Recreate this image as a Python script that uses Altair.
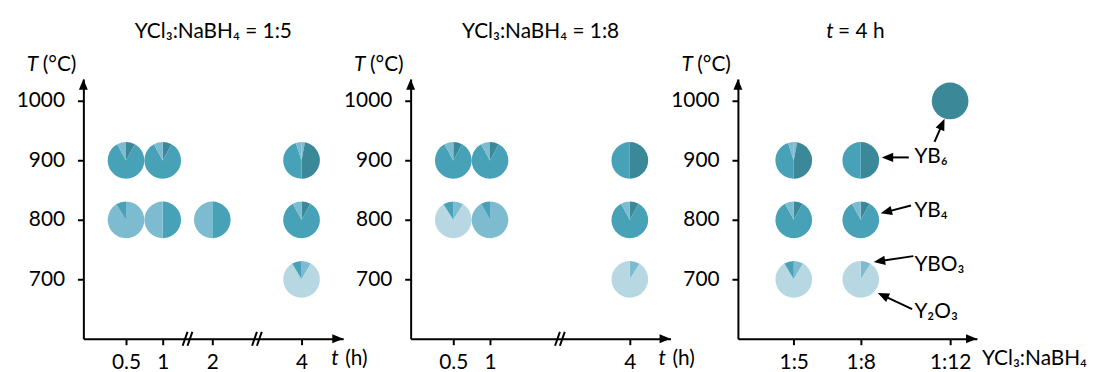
import math
import altair as alt
import pandas as pd

FONT = "Lato"
FS = 21

# ---------------- data ----------------
PHASES = ["YB6", "YB4", "YBO3", "Y2O3"]
PHASE_COLORS = ["#3b8899", "#47a2b8", "#7dbcd0", "#b7d7e2"]

# phase composition of each pie, in % and clockwise from 12 o'clock
COMPOSITIONS = {
    "A": [("YB6", 8), ("YB4", 84), ("YBO3", 8)],
    "B": [("YBO3", 3), ("YB6", 47), ("YB4", 45), ("YBO3", 5)],
    "C": [("YBO3", 91), ("YB4", 9)],
    "C2": [("YBO3", 92), ("YB4", 8)],
    "D": [("YB4", 50), ("YBO3", 50)],
    "E": [("YBO3", 8.5), ("Y2O3", 83), ("YB4", 8.5)],
    "F": [("YB6", 50), ("YB4", 50)],
    "G": [("YBO3", 9), ("Y2O3", 82), ("YB4", 9)],
    "H": [("YBO3", 9), ("Y2O3", 91)],
    "P": [("YB6", 100)],
}

# panel 1: YCl3:NaBH4 = 1:5
P1_TIME = [0.5, 1, 4, 0.5, 1, 2, 4, 4]
P1_TEMP = [900, 900, 900, 800, 800, 800, 800, 700]
P1_COMP = ["A", "A", "B", "C", "D", "D", "A", "E"]
P1_TICKS = [0.5, 1, 2, 4]
P1_BREAKS = [1.5, 3]

# panel 2: YCl3:NaBH4 = 1:8
P2_TIME = [0.5, 1, 4, 0.5, 1, 4, 4]
P2_TEMP = [900, 900, 900, 800, 800, 800, 700]
P2_COMP = ["A", "A", "F", "G", "C2", "A", "H"]
P2_TICKS = [0.5, 1, 4]
P2_BREAKS = [2.5]

# panel 3: t = 4 h, x = NaBH4 per YCl3
P3_RATIO = [5, 5, 5, 8, 8, 8, 12]
P3_TEMP = [900, 800, 700, 900, 800, 700, 1000]
P3_COMP = ["B", "A", "E", "F", "A", "H", "P"]
P3_TICKS = [5, 8, 12]

Y_TICKS = [700, 800, 900, 1000]

# annotations of panel 3 (data units: ratio, °C)
ANN_TEXT = ["YB\u2086", "YB\u2084", "YBO\u2083", "Y\u2082O\u2083"]
ANN_TEXT_R = [10.4, 10.4, 10.4, 10.4]
ANN_TEXT_T = [906, 814, 724, 645]
ARROW_TAIL_R = [10.15, 11.3, 10.25, 10.35, 10.3]
ARROW_TAIL_T = [905, 931, 824, 739, 650]
ARROW_TIP_R = [8.94, 11.75, 8.89, 8.58, 8.76]
ARROW_TIP_T = [905, 970, 811, 729, 677]

# ---------------- geometry / scales ----------------
H = 262
W12 = 262
W3 = 241
Y_DOMAIN = [600, 1037]
P1_DOMAIN = [0, 0.5, 1, 2, 4, 4.5]
P1_RANGE = [0, 43, 80, 130, 220, W12]
P2_DOMAIN = [0, 0.5, 1, 4, 4.5]
P2_RANGE = [0, 43, 80, 221, W12]
P3_DOMAIN = [2.5, 13.2]
P3_RANGE = [0, W3]

ARROW = "M0,0L-0.45,1.1L0.45,1.1Z"
BREAK = "M-0.7,1L0,-1M0,1L0.7,-1"


def pie_frame(xs, temps, comps):
    rows = []
    for i, (x, t, c) in enumerate(zip(xs, temps, comps)):
        for k, (ph, pct) in enumerate(COMPOSITIONS[c]):
            rows.append({"pie": i, "x": x, "T": t, "phase": ph, "pct": pct, "order": k})
    return pd.DataFrame(rows)


def axis(values, label_expr, pad):
    return alt.Axis(
        values=values, labelExpr=label_expr, title="", grid=False,
        domainColor="black", domainWidth=2, tickColor="black", tickWidth=2,
        tickSize=6, labelFont=FONT, labelFontSize=FS, labelColor="black",
        labelPadding=pad, labelOverlap=False,
    )


def panel(df, xdom, xrange, width, xticks, xlabel_expr, breaks, xtitle, title, annotations=None):
    xs = alt.Scale(domain=xdom, range=xrange, nice=False, zero=False)
    ys = alt.Scale(domain=Y_DOMAIN, nice=False, zero=False)
    xax = axis(xticks, xlabel_expr, 7)
    yax = axis(Y_TICKS, "datum.value", 13)
    xmin, xmax = xdom[0], xdom[-1]
    ymin, ymax = Y_DOMAIN

    def X(f):
        return alt.X(f"{f}:Q", scale=xs, axis=xax)

    def Y(f):
        return alt.Y(f"{f}:Q", scale=ys, axis=yax)

    pies = alt.Chart(df).transform_joinaggregate(
        total="sum(pct)", groupby=["pie"]
    ).transform_window(
        cum="sum(pct)", groupby=["pie"], sort=[alt.SortField("order")], frame=[None, 0]
    ).transform_calculate(
        a0="(datum.cum - datum.pct) / datum.total", a1="datum.cum / datum.total"
    ).mark_arc(radius=18.5).encode(
        x=X("x"),
        y=Y("T"),
        theta=alt.Theta("a0:Q", scale=alt.Scale(domain=[0, 1], range=[0, 2 * math.pi]), stack=False),
        theta2="a1:Q",
        color=alt.Color("phase:N", scale=alt.Scale(domain=PHASES, range=PHASE_COLORS), legend=None),
        order=alt.Order("order:Q"),
    )

    head_x = alt.Chart(pd.DataFrame({"x": [xmax], "y": [ymin]})).mark_point(
        shape=ARROW, size=400, filled=True, color="black", opacity=1, strokeWidth=0, angle=90
    ).encode(x=X("x"), y=Y("y"))
    head_y = alt.Chart(pd.DataFrame({"x": [xmin], "y": [ymax]})).mark_point(
        shape=ARROW, size=400, filled=True, color="black", opacity=1, strokeWidth=0, angle=0
    ).encode(x=X("x"), y=Y("y"))

    layers = [pies, head_x, head_y]

    if breaks:
        layers.append(
            alt.Chart(pd.DataFrame({"x": breaks, "y": [ymin] * len(breaks)})).mark_point(
                shape=BREAK, size=196, filled=False, color="black", opacity=1, strokeWidth=2
            ).encode(x=X("x"), y=Y("y"))
        )

    txt = dict(font=FONT, fontSize=FS, color="black", baseline="alphabetic", align="left")
    # y axis title: T (°C)
    layers.append(alt.Chart(pd.DataFrame({"x": [xmin], "y": [ymax], "s": ["T"]})).mark_text(
        dx=-57, dy=-8, fontStyle="italic", **txt).encode(text="s:N", x=X("x"), y=Y("y")))
    layers.append(alt.Chart(pd.DataFrame({"x": [xmin], "y": [ymax], "s": ["(°C)"]})).mark_text(
        dx=-41, dy=-8, **txt).encode(text="s:N", x=X("x"), y=Y("y")))
    # x axis title
    for s, dx, style in xtitle:
        layers.append(alt.Chart(pd.DataFrame({"x": [xmax], "y": [ymin], "s": [s]})).mark_text(
            dx=dx, dy=26, fontStyle=style, **txt).encode(text="s:N", x=X("x"), y=Y("y")))
    # panel title
    for s, px, style, al in title:
        t2 = dict(txt)
        t2["align"] = al
        layers.append(alt.Chart(pd.DataFrame({"s": [s]})).mark_text(fontStyle=style, **t2).encode(
            text="s:N", x=alt.value(px), y=alt.value(-41)))

    if annotations is not None:
        layers.extend(annotations(X, Y))

    return alt.layer(*layers).properties(width=width, height=H)


def p3_annotations(X, Y):
    px_r = W3 / (P3_DOMAIN[1] - P3_DOMAIN[0])
    px_t = H / (Y_DOMAIN[1] - Y_DOMAIN[0])
    rows = []
    for r0, t0, r1, t1 in zip(ARROW_TAIL_R, ARROW_TAIL_T, ARROW_TIP_R, ARROW_TIP_T):
        dxp = (r1 - r0) * px_r
        dyp = -(t1 - t0) * px_t
        ln = math.hypot(dxp, dyp)
        ang = math.degrees(math.atan2(dxp, -dyp)) % 360
        f = 5.0 / ln
        rows.append({"r0": r0, "t0": t0, "r1": r1 + (r0 - r1) * f, "t1": t1 + (t0 - t1) * f,
                     "rt": r1, "tt": t1, "ang": ang})
    adf = pd.DataFrame(rows)
    shafts = alt.Chart(adf).mark_rule(color="black", strokeWidth=2).encode(
        x=X("r0"), y=Y("t0"), x2="r1:Q", y2="t1:Q")
    heads = alt.Chart(adf).mark_point(shape=ARROW, size=440, filled=True, color="black",
                                      opacity=1, strokeWidth=0).encode(
        x=X("rt"), y=Y("tt"),
        angle=alt.Angle("ang:Q", scale=alt.Scale(domain=[0, 360], range=[0, 360])))
    labels = alt.Chart(pd.DataFrame({"r": ANN_TEXT_R, "t": ANN_TEXT_T, "s": ANN_TEXT})).mark_text(
        font=FONT, fontSize=FS, color="black", align="left", baseline="middle").encode(
        x=X("r"), y=Y("t"), text="s:N")
    return [shafts, heads, labels]


p1 = panel(pie_frame(P1_TIME, P1_TEMP, P1_COMP), P1_DOMAIN, P1_RANGE, W12, P1_TICKS,
           "datum.value", P1_BREAKS, [("t", -12, "italic"), ("(h)", 2, "normal")],
           [("YCl\u2083:NaBH\u2084 = 1:5", W12 / 2, "normal", "center")])
p2 = panel(pie_frame(P2_TIME, P2_TEMP, P2_COMP), P2_DOMAIN, P2_RANGE, W12, P2_TICKS,
           "datum.value", P2_BREAKS, [("t", -12, "italic"), ("(h)", 2, "normal")],
           [("YCl\u2083:NaBH\u2084 = 1:8", W12 / 2, "normal", "center")])
p3 = panel(pie_frame(P3_RATIO, P3_TEMP, P3_COMP), P3_DOMAIN, P3_RANGE, W3, P3_TICKS,
           "'1:' + datum.value", [], [("YCl\u2083:NaBH\u2084", 5, "normal")],
           [("t", 89, "italic", "left"), ("= 4 h", 101, "normal", "left")],
           annotations=p3_annotations)

chart = alt.hconcat(p1, p2, p3, spacing=68, bounds="flush").configure_view(
    strokeWidth=0
).properties(padding={"left": 8, "top": 12, "right": 0, "bottom": 0})

chart.save("out.html", embed_options={"renderer": "svg", "actions": False})
